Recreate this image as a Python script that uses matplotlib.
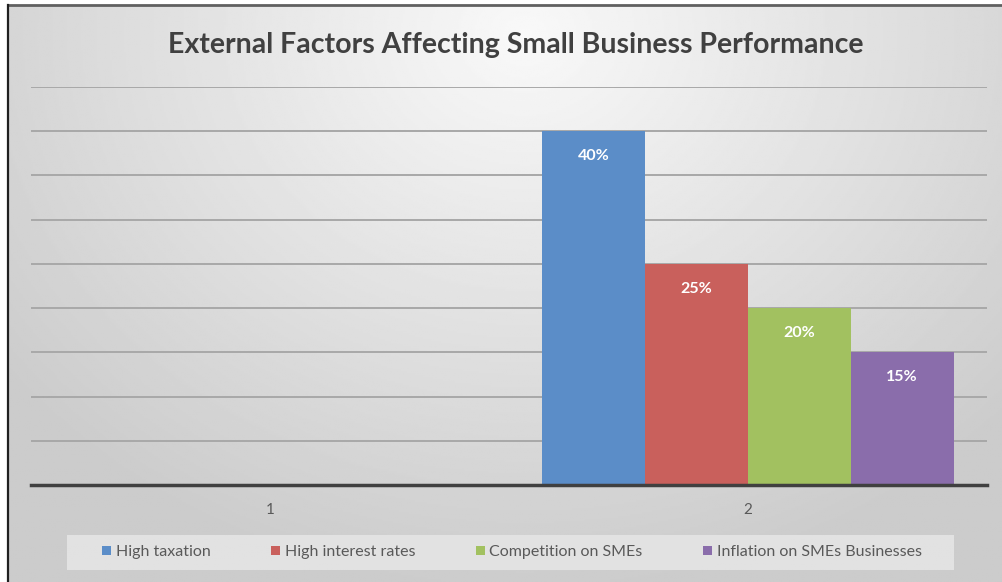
import numpy as np
import matplotlib
matplotlib.use("Agg")
import matplotlib.pyplot as plt
from matplotlib.lines import Line2D
from matplotlib.patches import Rectangle

categories = ["1", "2"]
series = ["High taxation", "High interest rates", "Competition on SMEs", "Inflation on SMEs Businesses"]
high_taxation = [np.nan, 40]
high_interest = [np.nan, 25]
competition = [np.nan, 20]
inflation = [np.nan, 15]
values = [high_taxation, high_interest, competition, inflation]
colors = ["#5b8dc8", "#c9605c", "#a2c160", "#8a6dab"]

plt.rcParams['font.family'] = ['Lato', 'DejaVu Sans']

W, H = 1003, 582
fig = plt.figure(figsize=(W / 100, H / 100), dpi=100)

# background panel with soft radial gradient
bg = fig.add_axes([8 / W, 0, (W - 8) / W, (H - 5) / H], zorder=-10)
yy, xx = np.mgrid[0:1:300j, 0:1:500j]
r = np.sqrt(((xx - 0.52) / 0.75) ** 2 + ((yy - 0.05) / 1.1) ** 2)
shade = np.clip(0.975 - 0.2 * r, 0.8, 1.0)
bg.imshow(shade, cmap='gray', vmin=0, vmax=1, aspect='auto', extent=[0, 1, 1, 0])
bg.set_axis_off()

# dark frame on top and left
fig.add_artist(Line2D([8 / W, 1], [1 - 5 / H, 1 - 5 / H], color='#606060', lw=2))
fig.add_artist(Line2D([8 / W, 8 / W], [0, 1 - 5 / H], color='#202020', lw=1.6))

# legend box
fig.add_artist(Rectangle((67 / W, 1 - 570 / H), (954 - 67) / W, 35 / H,
                         transform=fig.transFigure, facecolor='#e6e6e6', edgecolor='none',
                         alpha=0.85, zorder=1))

ax = fig.add_axes([31 / W, 1 - 485 / H, (987 - 31) / W, (485 - 87) / H])
ax.set_facecolor('none')

x = np.arange(len(categories))
width = 0.215
bars = []
for i, (name, vals, col) in enumerate(zip(series, values, colors)):
    b = ax.bar(x + (i - 1.5) * width, vals, width, color=col, label=name, zorder=3)
    labels = ['' if np.isnan(v) else f'{v:g}%' for v in vals]
    ax.bar_label(b, labels=labels, padding=-23, color='white', fontsize=11.5,
                 fontweight='bold', zorder=4)
    bars.append(b)

ax.set_xlim(-0.5, 1.5)
ax.set_ylim(0, 45)
ax.set_yticks(np.arange(5, 46, 5))
ax.yaxis.grid(True, color='#a8a8a8', lw=1.4, zorder=1)
ax.tick_params(axis='y', left=False, labelleft=False)
ax.set_xticks(x)
ax.set_xticklabels(categories, fontsize=11, color='#595959')
ax.tick_params(axis='x', length=0, pad=13)
for s in ['top', 'right', 'left']:
    ax.spines[s].set_visible(False)
ax.spines['bottom'].set_color('#404040')
ax.spines['bottom'].set_linewidth(2.5)
ax.spines['bottom'].set_zorder(5)

fig.text(516 / W, 1 - 45 / H, "External Factors Affecting Small Business Performance",
         ha='center', va='center', fontsize=20.5, fontweight='bold', color='#404040')

leg = fig.legend(handles=bars, labels=series, loc='center', bbox_to_anchor=(512 / W, 1 - 552 / H),
                 ncol=4, fontsize=11.5, frameon=False, handlelength=0.55,
                 handleheight=0.55, handletextpad=0.3, columnspacing=3.8)
for t in leg.get_texts():
    t.set_color('#595959')

fig.savefig('out.png', dpi=100, facecolor='white')
